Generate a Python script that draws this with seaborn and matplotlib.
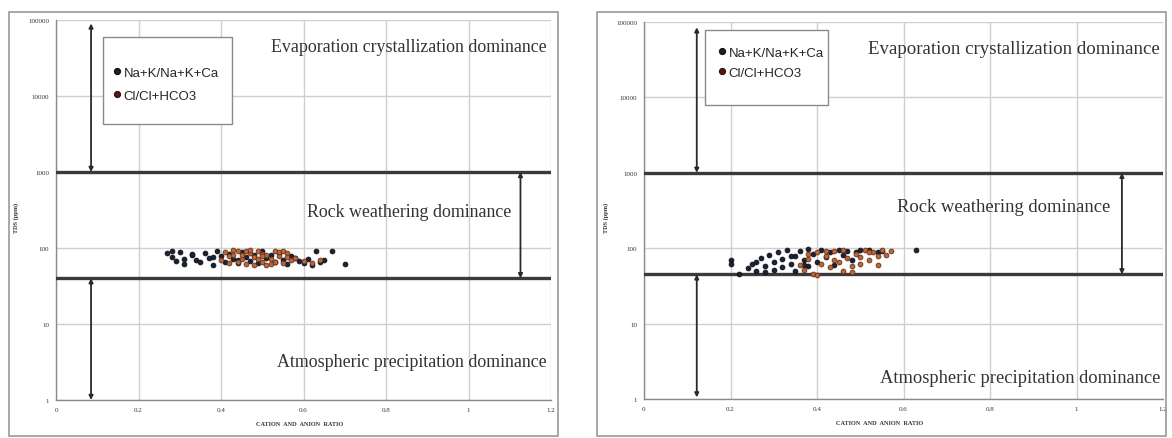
import numpy as np
import pandas as pd
import matplotlib
matplotlib.use("Agg")
import matplotlib.pyplot as plt
from matplotlib.patches import Rectangle
from matplotlib.lines import Line2D
import seaborn as sns

# ---- data -----------------------------------------------------------------
# Panel A: ratio values and TDS (ppm)
na_x_a = [0.27, 0.28, 0.29, 0.30, 0.31, 0.31, 0.33, 0.34, 0.35, 0.36, 0.37, 0.38,
          0.39, 0.40, 0.41, 0.42, 0.43, 0.44, 0.45, 0.46, 0.47, 0.48, 0.49, 0.50,
          0.51, 0.52, 0.53, 0.54, 0.55, 0.56, 0.57, 0.58, 0.59, 0.60, 0.61, 0.62,
          0.63, 0.64, 0.65, 0.67, 0.70, 0.28, 0.33, 0.38, 0.44]
na_y_a = [85, 75, 68, 88, 72, 62, 80, 70, 65, 86, 74, 60,
          90, 78, 66, 84, 71, 63, 88, 76, 68, 82, 64, 90,
          73, 80, 66, 86, 70, 62, 78, 74, 68, 64, 72, 60,
          90, 66, 70, 91, 62, 90, 84, 76, 70]
cl_x_a = [0.40, 0.41, 0.42, 0.43, 0.44, 0.45, 0.46, 0.47, 0.48, 0.49, 0.50, 0.51,
          0.52, 0.53, 0.54, 0.55, 0.56, 0.57, 0.42, 0.44, 0.46, 0.48, 0.50, 0.52,
          0.54, 0.56, 0.45, 0.49, 0.53, 0.47, 0.51, 0.55, 0.58, 0.60, 0.62, 0.64,
          0.43, 0.50]
cl_y_a = [70, 88, 64, 80, 92, 72, 62, 85, 76, 90, 66, 82,
          72, 92, 78, 64, 86, 70, 78, 66, 90, 60, 84, 62,
          88, 76, 82, 72, 66, 94, 60, 91, 74, 68, 63, 70,
          95, 79]

# Panel B
na_x_b = [0.20, 0.20, 0.22, 0.24, 0.25, 0.26, 0.27, 0.28, 0.28, 0.29, 0.30, 0.31,
          0.32, 0.32, 0.33, 0.34, 0.35, 0.35, 0.36, 0.37, 0.38, 0.38, 0.39, 0.40,
          0.41, 0.42, 0.43, 0.44, 0.45, 0.46, 0.47, 0.48, 0.49, 0.50, 0.52, 0.54,
          0.55, 0.63, 0.26, 0.30, 0.34, 0.37]
na_y_b = [70, 62, 46, 55, 62, 50, 75, 58, 48, 82, 66, 88,
          56, 72, 95, 62, 50, 80, 92, 70, 98, 58, 85, 66,
          95, 76, 90, 60, 96, 82, 92, 70, 88, 95, 96, 90,
          93, 95, 66, 52, 78, 60]
cl_x_b = [0.36, 0.37, 0.38, 0.39, 0.40, 0.41, 0.42, 0.43, 0.44, 0.45, 0.46, 0.47,
          0.48, 0.49, 0.50, 0.51, 0.52, 0.53, 0.54, 0.55, 0.56, 0.38, 0.40, 0.44,
          0.48, 0.50, 0.52, 0.46, 0.42, 0.54, 0.57]
cl_y_b = [60, 52, 72, 46, 88, 62, 80, 56, 92, 66, 95, 75,
          48, 85, 62, 94, 70, 88, 78, 96, 82, 85, 44, 70,
          58, 77, 90, 50, 93, 60, 92]

series_names = ["Na+K/Na+K+Ca", "Cl/Cl+HCO3"]
x_ticks = [0, 0.2, 0.4, 0.6, 0.8, 1, 1.2]
x_tick_labels = ["0", "0.2", "0.4", "0.6", "0.8", "1", "1.2"]
y_ticks = [1, 10, 100, 1000, 10000, 100000]
y_tick_labels = ["1", "10", "100", "1000", "10000", "100000"]
upper_limit = 1000
lower_limit_a = 40
lower_limit_b = 45

zone_labels = ["Evaporation crystallization dominance",
               "Rock weathering dominance",
               "Atmospheric precipitation dominance"]

# ---- style ------------------------------------------------------------------
sns.set_style("white")
plt.rcParams["font.family"] = ["Liberation Serif", "DejaVu Serif"]

palette = {series_names[0]: "#1b2233", series_names[1]: "#b8683a"}
edge_col = {series_names[0]: "#0d111a", series_names[1]: "#6a3018"}

fig = plt.figure(figsize=(11.72, 4.39), dpi=100)
W, H = 1172, 439


def fx(px):
    return px / W


def fy(py):
    return 1 - py / H


# chart-area borders
for (x0, x1) in [(9, 558), (597, 1166)]:
    fig.patches.append(Rectangle((fx(x0), fy(437)), fx(x1) - fx(x0), fy(13) - fy(437),
                                 transform=fig.transFigure, fill=False,
                                 edgecolor="#9a9a9a", linewidth=1.2))

ax_a = fig.add_axes([fx(56), fy(401), fx(551) - fx(56), fy(21) - fy(401)])
ax_b = fig.add_axes([fx(644), fy(400), fx(1163) - fx(644), fy(23) - fy(400)])

panels = [
    dict(ax=ax_a, na=(na_x_a, na_y_a), cl=(cl_x_a, cl_y_a), low=lower_limit_a,
         arrow_x=0.085, arrow_top=90000, arrow_bottom=1.0, right_x=1.126,
         txt=[(1.19, 45000, "right", 12.9), (0.857, 300, "center", 12.9),
              (1.19, 3.2, "right", 12.9)],
         box=(103, 38, 232, 125), leg=(111, 85), spacing=0.8,
         labx=(300, 425), laby=(16, 218)),
    dict(ax=ax_b, na=(na_x_b, na_y_b), cl=(cl_x_b, cl_y_b), low=lower_limit_b,
         arrow_x=0.122, arrow_top=85000, arrow_bottom=1.05, right_x=1.105,
         txt=[(1.193, 45000, "right", 13.6), (0.832, 360, "center", 13.4),
              (1.193, 1.9, "right", 13.3)],
         box=(705, 31, 828, 106), leg=(716, 63.5), spacing=0.58,
         labx=(880, 424), laby=(606, 218)),
]

for p in panels:
    ax = p["ax"]
    df = pd.concat([
        pd.DataFrame({"ratio": p["na"][0], "tds": p["na"][1], "series": series_names[0]}),
        pd.DataFrame({"ratio": p["cl"][0], "tds": p["cl"][1], "series": series_names[1]}),
    ])
    for name in series_names:
        sns.scatterplot(data=df[df["series"] == name], x="ratio", y="tds",
                        color=palette[name], edgecolor=edge_col[name],
                        s=12, linewidth=0.6, ax=ax, legend=False, zorder=4)

    ax.set_yscale("log")
    ax.set_xlim(0, 1.2)
    ax.set_ylim(1, 100000)
    ax.set_xticks(x_ticks)
    ax.set_xticklabels(x_tick_labels)
    ax.set_yticks(y_ticks)
    ax.set_yticklabels(y_tick_labels)
    ax.minorticks_off()
    ax.tick_params(axis="both", labelsize=5, length=0, pad=5, labelcolor="#333333")
    ax.grid(True, color="#cfcfcf", linewidth=1.0)
    ax.set_axisbelow(True)
    for side in ["top", "right"]:
        ax.spines[side].set_visible(False)
    for side in ["left", "bottom"]:
        ax.spines[side].set_color("#8a8a8a")
        ax.spines[side].set_linewidth(1.0)
    ax.set_xlabel("")
    ax.set_ylabel("")

    # zone boundaries
    for yv in [upper_limit, p["low"]]:
        ax.axhline(yv, color="#3a3a3a", linewidth=2.4, zorder=3)

    # range arrows
    arrow_kw = dict(arrowstyle="<|-|>", color="#2a2a2a", lw=1.3,
                    mutation_scale=6, shrinkA=0, shrinkB=0)
    ax.annotate("", xy=(p["arrow_x"], p["arrow_top"]), xytext=(p["arrow_x"], upper_limit),
                arrowprops=arrow_kw, zorder=5)
    ax.annotate("", xy=(p["arrow_x"], p["low"]), xytext=(p["arrow_x"], p["arrow_bottom"]),
                arrowprops=arrow_kw, zorder=5)
    ax.annotate("", xy=(p["right_x"], upper_limit), xytext=(p["right_x"], p["low"]),
                arrowprops=arrow_kw, zorder=5)

    for (tx, ty, ha, fs), label in zip(p["txt"], zone_labels):
        ax.text(tx, ty, label, ha=ha, va="center", fontsize=fs, color="#333333", zorder=6)

    # legend: white box with a grey outline, entries placed inside it
    bx0, by0, bx1, by1 = p["box"]
    fig.patches.append(Rectangle((fx(bx0), fy(by1)), fx(bx1) - fx(bx0), fy(by0) - fy(by1),
                                 transform=fig.transFigure, facecolor="white",
                                 edgecolor="#8a8a8a", linewidth=1.0, zorder=6))
    handles = [Line2D([], [], marker="o", linestyle="", markersize=4.2,
                      markerfacecolor=palette[n] if i == 0 else "#5a1a14",
                      markeredgecolor="#111111" if i == 0 else "#3a0f0a")
               for i, n in enumerate(series_names)]
    leg = fig.legend(handles, series_names, loc="center left",
                     bbox_to_anchor=(fx(p["leg"][0]), fy(p["leg"][1])),
                     bbox_transform=fig.transFigure,
                     prop={"family": ["Liberation Sans", "DejaVu Sans"], "size": 9.5},
                     frameon=False, borderpad=0, labelspacing=p["spacing"],
                     handletextpad=0.05, handlelength=0.9, borderaxespad=0)
    leg.set_zorder(7)

    fig.text(fx(p["labx"][0]), fy(p["labx"][1]), "CATION  AND  ANION  RATIO",
             ha="center", va="center", fontsize=4.5, color="#333333", weight="bold")
    fig.text(fx(p["laby"][0]), fy(p["laby"][1]), "TDS (ppm)", rotation=90,
             ha="center", va="center", fontsize=4.5, color="#333333", weight="bold")

fig.savefig("out.png", dpi=100)
